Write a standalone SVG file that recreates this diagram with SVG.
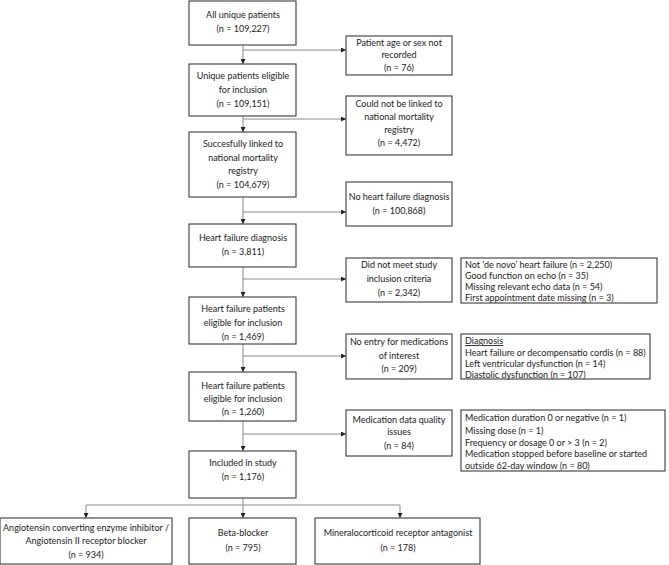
<svg xmlns="http://www.w3.org/2000/svg" width="669" height="565" viewBox="0 0 669 565">
<style>
rect{fill:#fff;stroke:#3a3a3a;stroke-width:1.1}
text{font-family:"Lato","Liberation Sans",sans-serif;font-size:9px;fill:#222}
.c{text-anchor:middle}
.cn line,.cn path{stroke:#8a8a8a;stroke-width:1;fill:none}
</style>
<defs>
<marker id="ah" viewBox="0 0 10 10" refX="10" refY="5" markerWidth="5" markerHeight="5" orient="auto" markerUnits="userSpaceOnUse"><path d="M0,0L10,5L0,10z" fill="#222"/></marker>
</defs>
<rect x="0" y="0" width="669" height="565" style="fill:#fff;stroke:none"/>
<g class="cn">
<line x1="243" y1="45" x2="243" y2="64" marker-end="url(#ah)"/>
<line x1="243" y1="50" x2="346" y2="50" marker-end="url(#ah)"/>
<line x1="243" y1="116" x2="243" y2="132" marker-end="url(#ah)"/>
<line x1="243" y1="119" x2="346" y2="119" marker-end="url(#ah)"/>
<line x1="243" y1="197" x2="243" y2="224" marker-end="url(#ah)"/>
<line x1="243" y1="212" x2="346" y2="212" marker-end="url(#ah)"/>
<line x1="243" y1="267" x2="243" y2="297" marker-end="url(#ah)"/>
<line x1="243" y1="279" x2="346" y2="279" marker-end="url(#ah)"/>
<line x1="243" y1="344" x2="243" y2="372" marker-end="url(#ah)"/>
<line x1="243" y1="356" x2="346" y2="356" marker-end="url(#ah)"/>
<line x1="243" y1="421" x2="243" y2="451" marker-end="url(#ah)"/>
<line x1="243" y1="434" x2="346" y2="434" marker-end="url(#ah)"/>
<line x1="243" y1="498" x2="243" y2="518" marker-end="url(#ah)"/>
<line x1="86" y1="505" x2="400" y2="505"/>
<line x1="86" y1="505" x2="86" y2="518" marker-end="url(#ah)"/>
<line x1="400" y1="505" x2="400" y2="518" marker-end="url(#ah)"/>
</g>
<g id="n1"><rect x="189" y="1" width="107" height="44"/><text class="c" x="243" y="18">All unique patients</text><text class="c" x="243" y="32">(n = 109,227)</text></g>
<g id="n2"><rect x="189" y="64" width="107" height="52"/><text class="c" x="243" y="79">Unique patients eligible</text><text class="c" x="243" y="93">for inclusion</text><text class="c" x="243" y="107">(n = 109,151)</text></g>
<g id="n3"><rect x="189" y="132" width="107" height="65"/><text class="c" x="243" y="147">Succesfully linked to</text><text class="c" x="243" y="161">national mortality</text><text class="c" x="243" y="174">registry</text><text class="c" x="243" y="188">(n = 104,679)</text></g>
<g id="n4"><rect x="189" y="224" width="107" height="43"/><text class="c" x="243" y="241">Heart failure diagnosis</text><text class="c" x="243" y="255">(n = 3,811)</text></g>
<g id="n5"><rect x="189" y="297" width="107" height="47"/><text class="c" x="243" y="312">Heart failure patients</text><text class="c" x="243" y="326">eligible for inclusion</text><text class="c" x="243" y="340">(n = 1,469)</text></g>
<g id="n6"><rect x="189" y="372" width="107" height="49"/><text class="c" x="243" y="389">Heart failure patients</text><text class="c" x="243" y="402">eligible for inclusion</text><text class="c" x="243" y="415">(n = 1,260)</text></g>
<g id="n7"><rect x="189" y="451" width="107" height="47"/><text class="c" x="243" y="466">Included in study</text><text class="c" x="243" y="480">(n = 1,176)</text></g>
<g id="s1"><rect x="346" y="36" width="106" height="39"/><text class="c" x="399" y="46">Patient age or sex not</text><text class="c" x="399" y="58">recorded</text><text class="c" x="399" y="71">(n = 76)</text></g>
<g id="s2"><rect x="346" y="96" width="106" height="59"/><text class="c" x="399" y="107">Could not be linked to</text><text class="c" x="399" y="120">national mortality</text><text class="c" x="399" y="133">registry</text><text class="c" x="399" y="146">(n = 4,472)</text></g>
<g id="s3"><rect x="346" y="182" width="106" height="44"/><text class="c" x="399" y="200">No heart failure diagnosis</text><text class="c" x="399" y="214">(n = 100,868)</text></g>
<g id="s4"><rect x="346" y="258" width="106" height="44"/><text class="c" x="399" y="268">Did not meet study</text><text class="c" x="399" y="282">inclusion criteria</text><text class="c" x="399" y="296">(n = 2,342)</text></g>
<g id="s5"><rect x="346" y="334" width="106" height="45"/><text class="c" x="399" y="345">No entry for medications</text><text class="c" x="399" y="359">of interest</text><text class="c" x="399" y="372">(n = 209)</text></g>
<g id="s6"><rect x="346" y="410" width="106" height="46"/><text class="c" x="399" y="423">Medication data quality</text><text class="c" x="399" y="435">issues</text><text class="c" x="399" y="449">(n = 84)</text></g>
<g id="d4"><rect x="461" y="258" width="196" height="45"/><text x="465" y="268">Not ‘de novo’ heart failure  (n = 2,250)</text><text x="465" y="279">Good function on echo  (n = 35)</text><text x="465" y="290">Missing relevant echo data  (n = 54)</text><text x="465" y="301">First appointment date missing  (n = 3)</text></g>
<g id="d5"><rect x="461" y="334" width="189" height="45"/><text x="465" y="344" text-decoration="underline">Diagnosis</text><text x="465" y="356">Heart failure or decompensatio cordis  (n = 88)</text><text x="465" y="367">Left ventricular dysfunction  (n = 14)</text><text x="465" y="378">Diastolic dysfunction  (n = 107)</text></g>
<g id="d6"><rect x="461" y="410" width="204" height="61"/><text x="465" y="421">Medication duration 0 or negative  (n = 1)</text><text x="465" y="434">Missing dose  (n = 1)</text><text x="465" y="446">Frequency or dosage 0 or &gt; 3  (n = 2)</text><text x="465" y="457">Medication stopped before baseline or started</text><text x="465" y="469">outside 62-day window  (n = 80)</text></g>
<g id="b1"><rect x="0" y="518" width="172" height="46"/><text class="c" x="86" y="531">Angiotensin converting enzyme inhibitor  /</text><text class="c" x="86" y="544">Angiotensin II receptor blocker</text><text class="c" x="86" y="558">(n = 934)</text></g>
<g id="b2"><rect x="189" y="518" width="107" height="46"/><text class="c" x="243" y="536">Beta-blocker</text><text class="c" x="243" y="551">(n = 795)</text></g>
<g id="b3"><rect x="315" y="518" width="165" height="46"/><text class="c" x="398" y="536">Mineralocorticoid receptor antagonist</text><text class="c" x="398" y="551">(n = 178)</text></g>
</svg>
